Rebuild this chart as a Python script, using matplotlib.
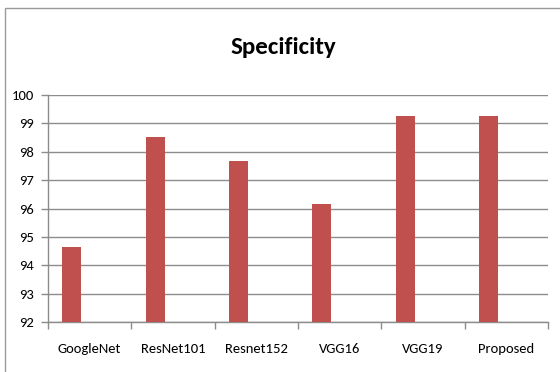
import matplotlib
matplotlib.use("Agg")
import matplotlib.pyplot as plt
import numpy as np
from matplotlib.patches import Rectangle

models = ["GoogleNet", "ResNet101", "Resnet152", "VGG16", "VGG19", "Proposed"]
specificity = [94.64, 98.51, 97.69, 96.15, 99.26, 99.26]
y_ticks = [92, 93, 94, 95, 96, 97, 98, 99, 100]

plt.rcParams['font.family'] = ['Carlito', 'DejaVu Sans']

fig = plt.figure(figsize=(5.6, 3.72), dpi=100)
fig.patch.set_facecolor("white")

# outer chart frame (only left/top edges fall inside the canvas)
fig.patches.append(Rectangle((5 / 560, -0.1), 1.2, (372 - 8) / 372 + 0.1,
                             transform=fig.transFigure, fill=False,
                             edgecolor="#9a9a9a", linewidth=1.0))

ax = fig.add_axes([48 / 560, (372 - 322.3) / 372, 500 / 560, 227.3 / 372])

x = np.arange(len(models))
ax.bar(x - 0.215, np.array(specificity) - 92, bottom=92, width=0.23,
       color="#C0504D", zorder=3)

ax.set_ylim(92, 100)
ax.set_xlim(-0.5, len(models) - 0.5)
ax.set_yticks(y_ticks)
ax.set_yticklabels([str(v) for v in y_ticks], fontsize=10.5)
ax.yaxis.grid(True, color="#8c8c8c", linewidth=1.0, zorder=0)
ax.set_axisbelow(True)

ax.set_xticks(x)
ax.set_xticklabels(models, fontsize=10.5)
ax.tick_params(axis="x", length=0, pad=15)
ax.set_xticks(np.arange(-0.5, len(models)), minor=True)
ax.tick_params(axis="x", which="minor", length=5, color="#8c8c8c", width=1.0)
ax.tick_params(axis="y", length=5, color="#8c8c8c", width=1.0, pad=5)

for side in ["top", "right"]:
    ax.spines[side].set_visible(False)
for side in ["left", "bottom"]:
    ax.spines[side].set_color("#8c8c8c")
    ax.spines[side].set_linewidth(1.0)

fig.text(283 / 560, 1 - 47 / 372, "Specificity", ha="center", va="center",
         fontsize=18, fontweight="bold")

fig.savefig("out.png", dpi=100)
